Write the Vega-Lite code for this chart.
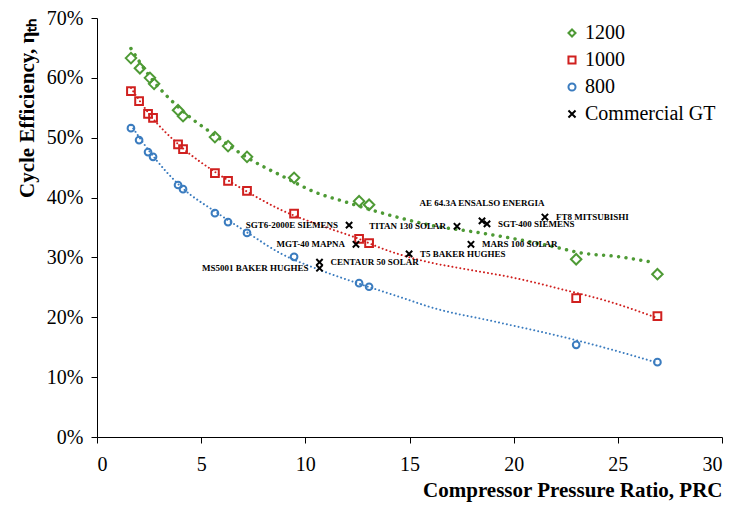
{
  "$schema": "https://vega.github.io/schema/vega-lite/v6.json",
  "width": 625,
  "height": 419,
  "autosize": {"type": "none"},
  "padding": {"left": 97, "top": 18, "right": 28, "bottom": 69},
  "background": "white",
  "config": {
    "font": "Liberation Serif",
    "view": {"stroke": null},
    "style": {"guide-label": {"font": "Liberation Serif"}, "guide-title": {"font": "Liberation Serif"}},
    "axis": {
      "domainColor": "#000000",
      "tickColor": "#000000",
      "domainWidth": 1,
      "tickWidth": 1,
      "tickSize": 6,
      "grid": false,
      "labelFont": "Liberation Serif",
      "labelColor": "#000000",
      "labelFontSize": 20,
      "titleFont": "Liberation Serif",
      "titleColor": "#000000",
      "titleFontWeight": "bold"
    },
    "legend": {
      "orient": "none",
      "legendX": 465,
      "legendY": 5,
      "padding": 0,
      "labelFontSize": 20,
      "labelFont": "Liberation Serif",
      "labelFontWeight": "normal",
      "labelColor": "#000000",
      "labelOffset": 3,
      "symbolSize": 50,
      "symbolStrokeWidth": 2,
      "rowPadding": 7
    }
  },
  "datasets": {
    "points": [
      {"series": "1200", "pr": 1.63, "eff": 0.633},
      {"series": "1200", "pr": 2.06, "eff": 0.616},
      {"series": "1200", "pr": 2.54, "eff": 0.600},
      {"series": "1200", "pr": 2.74, "eff": 0.590},
      {"series": "1200", "pr": 3.89, "eff": 0.546},
      {"series": "1200", "pr": 4.13, "eff": 0.536},
      {"series": "1200", "pr": 5.66, "eff": 0.501},
      {"series": "1200", "pr": 6.29, "eff": 0.486},
      {"series": "1200", "pr": 7.2, "eff": 0.468},
      {"series": "1200", "pr": 9.46, "eff": 0.433},
      {"series": "1200", "pr": 12.58, "eff": 0.394},
      {"series": "1200", "pr": 13.06, "eff": 0.388},
      {"series": "1200", "pr": 23.0, "eff": 0.297},
      {"series": "1200", "pr": 26.9, "eff": 0.272},
      {"series": "1000", "pr": 1.63, "eff": 0.578},
      {"series": "1000", "pr": 2.02, "eff": 0.561},
      {"series": "1000", "pr": 2.45, "eff": 0.540},
      {"series": "1000", "pr": 2.69, "eff": 0.533},
      {"series": "1000", "pr": 3.89, "eff": 0.489},
      {"series": "1000", "pr": 4.13, "eff": 0.481},
      {"series": "1000", "pr": 5.66, "eff": 0.441},
      {"series": "1000", "pr": 6.29, "eff": 0.428},
      {"series": "1000", "pr": 7.2, "eff": 0.411},
      {"series": "1000", "pr": 9.46, "eff": 0.373},
      {"series": "1000", "pr": 12.58, "eff": 0.331},
      {"series": "1000", "pr": 13.06, "eff": 0.324},
      {"series": "1000", "pr": 23.0, "eff": 0.232},
      {"series": "1000", "pr": 26.9, "eff": 0.202},
      {"series": "800", "pr": 1.63, "eff": 0.516},
      {"series": "800", "pr": 2.02, "eff": 0.496},
      {"series": "800", "pr": 2.45, "eff": 0.476},
      {"series": "800", "pr": 2.69, "eff": 0.468},
      {"series": "800", "pr": 3.89, "eff": 0.421},
      {"series": "800", "pr": 4.13, "eff": 0.414},
      {"series": "800", "pr": 5.66, "eff": 0.374},
      {"series": "800", "pr": 6.29, "eff": 0.359},
      {"series": "800", "pr": 7.2, "eff": 0.341},
      {"series": "800", "pr": 9.46, "eff": 0.301},
      {"series": "800", "pr": 12.58, "eff": 0.257},
      {"series": "800", "pr": 13.06, "eff": 0.251},
      {"series": "800", "pr": 23.0, "eff": 0.154},
      {"series": "800", "pr": 26.9, "eff": 0.125},
      {"series": "Commercial GT", "pr": 12.1, "eff": 0.354, "label": "SGT6-2000E  SIEMENS"},
      {"series": "Commercial GT", "pr": 17.28, "eff": 0.352, "label": "TITAN 130 SOLAR"},
      {"series": "Commercial GT", "pr": 12.43, "eff": 0.322, "label": "MGT-40 MAPNA"},
      {"series": "Commercial GT", "pr": 10.68, "eff": 0.282, "label": "MS5001 BAKER HUGHES"},
      {"series": "Commercial GT", "pr": 10.68, "eff": 0.292, "label": "CENTAUR 50 SOLAR"},
      {"series": "Commercial GT", "pr": 14.98, "eff": 0.306, "label": "T5 BAKER HUGHES"},
      {"series": "Commercial GT", "pr": 17.95, "eff": 0.322, "label": "MARS 100 SOLAR"},
      {"series": "Commercial GT", "pr": 18.48, "eff": 0.361, "label": "AE 64.3A ENSALSO  ENERGIA"},
      {"series": "Commercial GT", "pr": 18.72, "eff": 0.356, "label": "SGT-400 SIEMENS"},
      {"series": "Commercial GT", "pr": 21.5, "eff": 0.3675, "label": "FT8 MITSUBISHI"}
    ],
    "trend": [
      {"curve": "1200", "pr": 1.63, "eff": 0.649},
      {"curve": "1200", "pr": 2.5, "eff": 0.604},
      {"curve": "1200", "pr": 4.1, "eff": 0.545},
      {"curve": "1200", "pr": 5.7, "eff": 0.503},
      {"curve": "1200", "pr": 7.2, "eff": 0.467},
      {"curve": "1200", "pr": 9.0, "eff": 0.434},
      {"curve": "1200", "pr": 10.4, "eff": 0.41},
      {"curve": "1200", "pr": 12.0, "eff": 0.392},
      {"curve": "1200", "pr": 13.6, "eff": 0.375},
      {"curve": "1200", "pr": 16.0, "eff": 0.354},
      {"curve": "1200", "pr": 18.4, "eff": 0.341},
      {"curve": "1200", "pr": 20.8, "eff": 0.326},
      {"curve": "1200", "pr": 22.4, "eff": 0.314},
      {"curve": "1200", "pr": 23.0, "eff": 0.309},
      {"curve": "1200", "pr": 25.1, "eff": 0.301},
      {"curve": "1200", "pr": 26.8, "eff": 0.291},
      {"curve": "1000", "pr": 1.63, "eff": 0.583},
      {"curve": "1000", "pr": 2.5, "eff": 0.54},
      {"curve": "1000", "pr": 4.1, "eff": 0.483},
      {"curve": "1000", "pr": 5.7, "eff": 0.442},
      {"curve": "1000", "pr": 7.2, "eff": 0.41},
      {"curve": "1000", "pr": 8.8, "eff": 0.38},
      {"curve": "1000", "pr": 10.85, "eff": 0.352},
      {"curve": "1000", "pr": 12.5, "eff": 0.332},
      {"curve": "1000", "pr": 13.6, "eff": 0.316},
      {"curve": "1000", "pr": 15.8, "eff": 0.293},
      {"curve": "1000", "pr": 17.6, "eff": 0.281},
      {"curve": "1000", "pr": 20.0, "eff": 0.266},
      {"curve": "1000", "pr": 22.4, "eff": 0.246},
      {"curve": "1000", "pr": 24.6, "eff": 0.226},
      {"curve": "1000", "pr": 26.8, "eff": 0.2},
      {"curve": "800", "pr": 1.63, "eff": 0.521},
      {"curve": "800", "pr": 2.5, "eff": 0.478},
      {"curve": "800", "pr": 4.1, "eff": 0.416},
      {"curve": "800", "pr": 5.7, "eff": 0.376},
      {"curve": "800", "pr": 7.2, "eff": 0.342},
      {"curve": "800", "pr": 8.8, "eff": 0.307},
      {"curve": "800", "pr": 10.7, "eff": 0.279},
      {"curve": "800", "pr": 12.5, "eff": 0.257},
      {"curve": "800", "pr": 14.7, "eff": 0.232},
      {"curve": "800", "pr": 16.0, "eff": 0.217},
      {"curve": "800", "pr": 19.2, "eff": 0.192},
      {"curve": "800", "pr": 22.85, "eff": 0.163},
      {"curve": "800", "pr": 24.8, "eff": 0.145},
      {"curve": "800", "pr": 26.9, "eff": 0.124}
    ]
  },
  "encoding": {
    "x": {
      "field": "pr",
      "type": "quantitative",
      "scale": {"domain": [0, 30], "nice": false},
      "axis": {
        "values": [0, 5, 10, 15, 20, 25, 30],
        "labelPadding": 11,
        "title": "Compressor Pressure Ratio, PRC",
        "titleFontSize": 21,
        "titleAnchor": "end",
        "titlePadding": 5
      }
    },
    "y": {
      "field": "eff",
      "type": "quantitative",
      "scale": {"domain": [0, 0.7], "nice": false},
      "axis": {
        "values": [0, 0.1, 0.2, 0.3, 0.4, 0.5, 0.6, 0.7],
        "format": ".0%",
        "labelPadding": 8,
        "title": "Cycle Efficiency, ηₜₕ",
        "titleFontSize": 21,
        "titleAnchor": "end",
        "titlePadding": 9
      }
    }
  },
  "layer": [
    {
      "data": {"name": "trend"},
      "transform": [{"filter": "datum.curve === '1200'"}],
      "mark": {"type": "line", "color": "#4e9a35", "strokeWidth": 3.5, "strokeCap": "round", "strokeDash": [0.01, 7.5], "interpolate": "monotone"}
    },
    {
      "data": {"name": "trend"},
      "transform": [{"filter": "datum.curve === '1000'"}],
      "mark": {"type": "line", "color": "#d0201f", "strokeWidth": 2, "strokeCap": "round", "strokeDash": [0.01, 4], "interpolate": "monotone"}
    },
    {
      "data": {"name": "trend"},
      "transform": [{"filter": "datum.curve === '800'"}],
      "mark": {"type": "line", "color": "#3b7cbf", "strokeWidth": 2, "strokeCap": "round", "strokeDash": [0.01, 4], "interpolate": "monotone"}
    },
    {
      "data": {"name": "points"},
      "transform": [{"filter": "datum.series === '1200'"}],
      "mark": {"type": "point", "filled": false, "strokeWidth": 2, "opacity": 1, "size": 110},
      "encoding": {
        "shape": {"field": "series", "type": "nominal", "title": null, "scale": {"domain": ["1200", "1000", "800", "Commercial GT"], "range": ["diamond", "square", "circle", "M-1,-1L1,1M-1,1L1,-1"]},
          "legend": {"orient": "none", "legendX": 465, "legendY": 5, "padding": 0, "labelFont": "Liberation Serif", "labelFontWeight": "normal", "labelFontSize": 20, "labelColor": "#000000", "labelOffset": 3, "symbolSize": 50, "symbolStrokeWidth": 2, "rowPadding": 7}},
        "stroke": {"field": "series", "type": "nominal", "title": null, "scale": {"domain": ["1200", "1000", "800", "Commercial GT"], "range": ["#4e9a35", "#d0201f", "#3b7cbf", "#000000"]},
          "legend": {"orient": "none", "legendX": 465, "legendY": 5, "padding": 0, "labelFont": "Liberation Serif", "labelFontWeight": "normal", "labelFontSize": 20, "labelColor": "#000000", "labelOffset": 3, "symbolSize": 50, "symbolStrokeWidth": 2, "rowPadding": 7}}
      }
    },
    {
      "data": {"name": "points"},
      "transform": [{"filter": "datum.series === '1000'"}],
      "mark": {"type": "point", "filled": false, "strokeWidth": 2, "opacity": 1, "size": 60},
      "encoding": {
        "shape": {"field": "series", "type": "nominal", "title": null},
        "stroke": {"field": "series", "type": "nominal", "title": null}
      }
    },
    {
      "data": {"name": "points"},
      "transform": [{"filter": "datum.series === '800'"}],
      "mark": {"type": "point", "filled": false, "strokeWidth": 2, "opacity": 1, "size": 45},
      "encoding": {
        "shape": {"field": "series", "type": "nominal", "title": null},
        "stroke": {"field": "series", "type": "nominal", "title": null}
      }
    },
    {
      "data": {"name": "points"},
      "transform": [{"filter": "datum.series === 'Commercial GT'"}],
      "mark": {"type": "point", "filled": false, "strokeWidth": 2, "opacity": 1, "size": 40},
      "encoding": {
        "shape": {"field": "series", "type": "nominal", "title": null},
        "stroke": {"field": "series", "type": "nominal", "title": null}
      }
    },
    {
      "data": {"name": "points"},
      "transform": [{"filter": {"field": "label", "oneOf": ["SGT6-2000E  SIEMENS", "TITAN 130 SOLAR", "MGT-40 MAPNA", "MS5001 BAKER HUGHES"]}}],
      "mark": {"type": "text", "font": "Liberation Serif", "fontWeight": "bold", "fontSize": 9, "align": "right", "baseline": "middle", "dx": -11, "color": "#000000"},
      "encoding": {"text": {"field": "label"}}
    },
    {
      "data": {"name": "points"},
      "transform": [{"filter": {"field": "label", "oneOf": ["CENTAUR 50 SOLAR", "T5 BAKER HUGHES", "MARS 100 SOLAR", "SGT-400 SIEMENS", "FT8 MITSUBISHI"]}}],
      "mark": {"type": "text", "font": "Liberation Serif", "fontWeight": "bold", "fontSize": 9, "align": "left", "baseline": "middle", "dx": 11, "color": "#000000"},
      "encoding": {"text": {"field": "label"}}
    },
    {
      "data": {"name": "points"},
      "transform": [{"filter": {"field": "label", "oneOf": ["AE 64.3A ENSALSO  ENERGIA"]}}],
      "mark": {"type": "text", "font": "Liberation Serif", "fontWeight": "bold", "fontSize": 9, "align": "center", "baseline": "middle", "dy": -18, "color": "#000000"},
      "encoding": {"text": {"field": "label"}}
    }
  ]
}
